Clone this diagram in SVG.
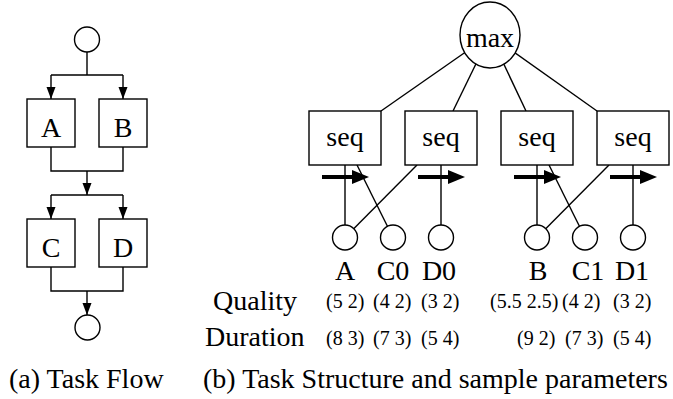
<svg xmlns="http://www.w3.org/2000/svg" width="673" height="399" viewBox="0 0 673 399">
<style>
  .n { fill: #fff; stroke: #000; stroke-width: 1.4; }
  .c { fill: none; stroke: #000; stroke-width: 1.4; }
  .t { font-size: 28px; fill: #000; }
  .m { text-anchor: middle; }
  .s { font-size: 20px; fill: #000; }
  .ta { stroke: #000; stroke-width: 4; }
</style>
<defs>
  <marker id="ah" markerUnits="userSpaceOnUse" markerWidth="12" markerHeight="10" refX="12" refY="4.5" orient="auto">
    <path d="M0,0 L12,4.5 L0,9 z" fill="#000"/>
  </marker>
  <g id="tarrow">
    <line x1="0" y1="0" x2="34" y2="0" class="ta"/>
    <path d="M30,-7 L47,0 L30,7 z" fill="#000"/>
  </g>
</defs>
<rect width="673" height="399" fill="#fff"/>

<g id="connectors">
  <path class="c" d="M87,52 V75 M51,75 H123"/>
  <path class="c" d="M51,75 V99" marker-end="url(#ah)"/>
  <path class="c" d="M123,75 V99" marker-end="url(#ah)"/>
  <path class="c" d="M51,147 V171 H123 V147"/>
  <path class="c" d="M87,171 V195" marker-end="url(#ah)"/>
  <path class="c" d="M51,195 H123"/>
  <path class="c" d="M51,195 V219" marker-end="url(#ah)"/>
  <path class="c" d="M123,195 V219" marker-end="url(#ah)"/>
  <path class="c" d="M51,267 V291 H123 V267"/>
  <path class="c" d="M87,291 V315" marker-end="url(#ah)"/>
  <line class="c" x1="381" y1="111" x2="490" y2="35"/>
  <line class="c" x1="453" y1="111" x2="490" y2="35"/>
  <line class="c" x1="526" y1="111" x2="490" y2="35"/>
  <line class="c" x1="597" y1="111" x2="490" y2="35"/>
  <line class="c" x1="345" y1="165" x2="345" y2="237.5"/>
  <line class="c" x1="357" y1="165" x2="393" y2="237.5"/>
  <line class="c" x1="417" y1="165" x2="345" y2="237.5"/>
  <line class="c" x1="441" y1="165" x2="441" y2="237.5"/>
  <line class="c" x1="537" y1="165" x2="537" y2="237.5"/>
  <line class="c" x1="549" y1="165" x2="585" y2="237.5"/>
  <line class="c" x1="609" y1="165" x2="537" y2="237.5"/>
  <line class="c" x1="633" y1="165" x2="633" y2="237.5"/>
  <use href="#tarrow" x="322" y="177"/>
  <use href="#tarrow" x="418" y="177"/>
  <use href="#tarrow" x="514" y="177"/>
  <use href="#tarrow" x="610" y="177"/>
</g>

<g font-family="'Liberation Serif', Tinos, 'Times New Roman', 'DejaVu Serif', serif">
<g id="start"><circle class="n" cx="87" cy="39.5" r="12.5"/></g>
<g id="taskA"><rect class="n" x="27" y="99" width="48" height="48"/><text class="t m" x="51" y="137">A</text></g>
<g id="taskB"><rect class="n" x="99" y="99" width="48" height="48"/><text class="t m" x="123" y="137">B</text></g>
<g id="taskC"><rect class="n" x="27" y="219" width="48" height="48"/><text class="t m" x="51" y="257">C</text></g>
<g id="taskD"><rect class="n" x="99" y="219" width="48" height="48"/><text class="t m" x="123" y="257">D</text></g>
<g id="end"><circle class="n" cx="87.5" cy="327.5" r="12.5"/></g>

<g id="max"><ellipse class="n" cx="490" cy="35" rx="30" ry="33"/><text class="t m" x="490" y="47">max</text></g>
<g id="seq1"><rect class="n" x="309" y="111" width="72" height="54"/><text class="t m" x="345" y="146">seq</text></g>
<g id="seq2"><rect class="n" x="405" y="111" width="72" height="54"/><text class="t m" x="441" y="146">seq</text></g>
<g id="seq3"><rect class="n" x="501" y="111" width="72" height="54"/><text class="t m" x="537" y="146">seq</text></g>
<g id="seq4"><rect class="n" x="597" y="111" width="72" height="54"/><text class="t m" x="633" y="146">seq</text></g>

<g id="leafA"><circle class="n" cx="345" cy="237.5" r="12.5"/><text class="t m" x="345" y="280">A</text></g>
<g id="leafC0"><circle class="n" cx="393" cy="237.5" r="12.5"/><text class="t m" x="393" y="280">C0</text></g>
<g id="leafD0"><circle class="n" cx="441" cy="237.5" r="12.5"/><text class="t m" x="439" y="280">D0</text></g>
<g id="leafB"><circle class="n" cx="537" cy="237.5" r="12.5"/><text class="t m" x="538" y="280">B</text></g>
<g id="leafC1"><circle class="n" cx="585" cy="237.5" r="12.5"/><text class="t m" x="588" y="280">C1</text></g>
<g id="leafD1"><circle class="n" cx="633" cy="237.5" r="12.5"/><text class="t m" x="632" y="280">D1</text></g>

<g id="params">
  <text class="t" x="213" y="310">Quality</text>
  <text class="t" x="205" y="346">Duration</text>
  <text class="s" x="326" y="308">(5 2)</text>
  <text class="s" x="373" y="308">(4 2)</text>
  <text class="s" x="421" y="308">(3 2)</text>
  <text class="s" x="490" y="308">(5.5 2.5)</text>
  <text class="s" x="562" y="308">(4 2)</text>
  <text class="s" x="613" y="308">(3 2)</text>
  <text class="s" x="326" y="345">(8 3)</text>
  <text class="s" x="373" y="345">(7 3)</text>
  <text class="s" x="421" y="345">(5 4)</text>
  <text class="s" x="517" y="345">(9 2)</text>
  <text class="s" x="565" y="345">(7 3)</text>
  <text class="s" x="613" y="345">(5 4)</text>
</g>

<g id="captions">
  <text class="t" x="9" y="388">(a) Task Flow</text>
  <text class="t" x="203" y="388">(b) Task Structure and sample parameters</text>
</g>
</g>
</svg>
